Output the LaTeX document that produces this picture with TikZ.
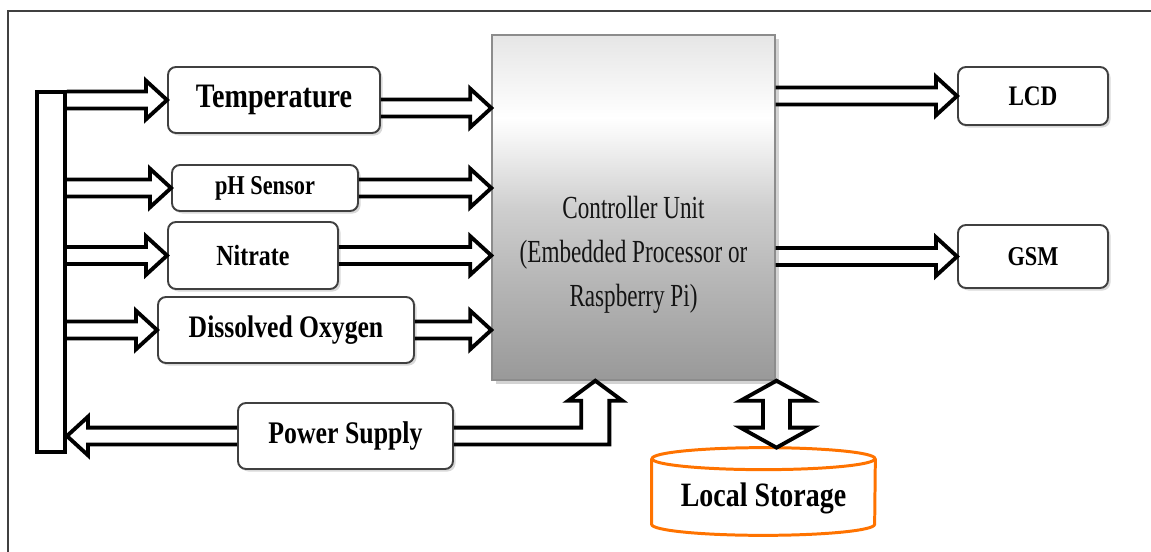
\documentclass[tikz,border=0pt]{standalone}
\usepackage{fontspec}
\setmainfont{Liberation Serif}
\newfontfamily\lblfam[FakeStretch=0.82]{Liberation Serif}
\newfontfamily\ctrlfam[FakeStretch=0.72]{Liberation Serif}
\usetikzlibrary{calc,shadows}

\pgfdeclareverticalshading{ctrlshade}{100bp}{color(0bp)=(black!40); color(25bp)=(black!40);
	color(40bp)=(black!28); color(50bp)=(black!19); color(58bp)=(black!7); color(63bp)=(white);
	color(75bp)=(black!10); color(100bp)=(black!10)}
\tikzset{
	box/.style={draw=black!75, line width=1.1pt, rounded corners=1.6mm, fill=white,
		drop shadow={opacity=0.3, shadow xshift=0.5mm, shadow yshift=-0.5mm}, inner sep=0pt},
	ctrlbox/.style={draw=black!45, line width=0.8pt, shading=ctrlshade,
		drop shadow={opacity=0.35, shadow xshift=0.8mm, shadow yshift=-0.8mm}},
	ctrltext/.style={align=center, text=black!92, font=\ctrlfam\fontsize{18.3}{25}\selectfont},
	busbar/.style={draw, line width=2.2pt, fill=white, inner sep=0pt},
	blockarrow/.style={line width=2.2pt, line join=miter},
	storeline/.style={draw=orange!90!red, line width=1.7pt}
}
\newcommand{\lblfont}[1]{\lblfam\fontsize{#1}{#1}\selectfont\bfseries}
\newcommand{\harrow}[2]{\draw[blockarrow] let \p1=#1, \p2=#2, \p3=($(\x2,\y1)!12pt!(\x1,\y1)$) in
	(\x1,\y1+4.8pt) -- (\x3,\y1+4.8pt) -- (\x3,\y1+11pt) -- (\x2,\y1)
	-- (\x3,\y1-11pt) -- (\x3,\y1-4.8pt) -- (\x1,\y1-4.8pt);}

\begin{document}
\begin{tikzpicture}[x=0.2mm, y=-0.2mm]
			\useasboundingbox (0,0) rectangle (1151,552);
			% Vẽ khung
			\draw[black!75, line width=0.45mm] (8,552) -- (8,11) -- (1151,11);
			% Vẽ các khối
			\node[busbar, minimum width=5.6mm, minimum height=72mm] (bus) at (51,272) {};
			\node[box, minimum width=42.4mm, minimum height=13.2mm, font=\lblfont{19.5}] (temp) at (274,100) {Temperature};
			\node[box, minimum width=37.2mm, minimum height=9.2mm, font=\lblfont{15.5}] (ph) at (265,188) {pH Sensor};
			\node[box, minimum width=34mm, minimum height=13.4mm, font=\lblfont{16.6}] (nit) at (253,255.5) {Nitrate};
			\node[box, minimum width=51.2mm, minimum height=13.2mm, font=\lblfont{17.8}] (oxy) at (286,330) {Dissolved Oxygen};
			\node[box, minimum width=43mm, minimum height=13.2mm, font=\lblfont{17.9}] (ps) at (345.5,436) {Power Supply};
			\node[ctrlbox, minimum width=56.6mm, minimum height=69mm] (ctrl) at (633.5,207.5) {};
			\node[ctrltext] (ctrltxt) at ($(ctrl)+(0,47)$) {Controller Unit\\(Embedded Processor or\\Raspberry Pi)};
			\node[box, minimum width=30mm, minimum height=11.6mm, font=\lblfont{16.1}] (lcd) at (1033,96) {LCD};
			\node[box, minimum width=30mm, minimum height=12.6mm, font=\lblfont{15.5}] (gsm) at (1033,256.5) {GSM};
			\node[minimum width=44.6mm, minimum height=17.4mm, text height=17pt, text depth=0pt, font=\lblfont{19.4}] (store) at (763.5,491.5) {Local Storage};
			\draw[storeline] ([yshift=-2.2mm]store.north) ellipse (22.3mm and 2.2mm);
			\draw[storeline] ([yshift=-2.2mm]store.north west) -- ([yshift=2.2mm]store.south west)
				arc (180:360:22.3mm and 2.2mm) -- ([yshift=-2.2mm]store.north east);
			% Vẽ mũi tên
			\foreach \b in {temp,ph,nit,oxy}
			\harrow{(bus.east |- \b.west)}{(\b.west)};
			\harrow{($(temp.east)+(0,8)$)}{(ctrl.west |- {$(temp.east)+(0,8)$})};
			\foreach \b in {ph,nit,oxy}
			\harrow{(\b.east)}{(ctrl.west |- \b.east)};
			\harrow{(ctrl.east |- lcd.west)}{(lcd.west)};
			\harrow{(ctrl.east |- gsm.west)}{(gsm.west)};
			\harrow{(ps.west)}{(bus.east |- ps.west)};
			\coordinate (pwrin) at ($(ctrl.south west)+(104,0)$);
			\draw[blockarrow] let \p1=(ps.east), \p2=(pwrin) in
				(\x1,\y1+4.8pt) -- (\x2-8pt,\y1+4.8pt) -- (\x2-8pt,\y2-11.4pt) -- (\x2-15.4pt,\y2-11.4pt) -- (\x2,\y2)
				-- (\x2+15.4pt,\y2-11.4pt) -- (\x2+8pt,\y2-11.4pt) -- (\x2+8pt,\y1-4.8pt) -- (\x1,\y1-4.8pt);
			\coordinate (memio) at ($(store.north)+(13,0)$);
			\draw[blockarrow] let \p1=(ctrl.south -| memio), \p2=(memio) in
				(\x1,\y1) -- (\x1+20.5pt,\y1-11.4pt) -- (\x1+7.7pt,\y1-11.4pt) -- (\x1+7.7pt,\y2+11.4pt)
				-- (\x1+20.5pt,\y2+11.4pt) -- (\x1,\y2) -- (\x1-20.5pt,\y2+11.4pt) -- (\x1-7.7pt,\y2+11.4pt)
				-- (\x1-7.7pt,\y1-11.4pt) -- (\x1-20.5pt,\y1-11.4pt) -- cycle;
		\end{tikzpicture}
\end{document}
